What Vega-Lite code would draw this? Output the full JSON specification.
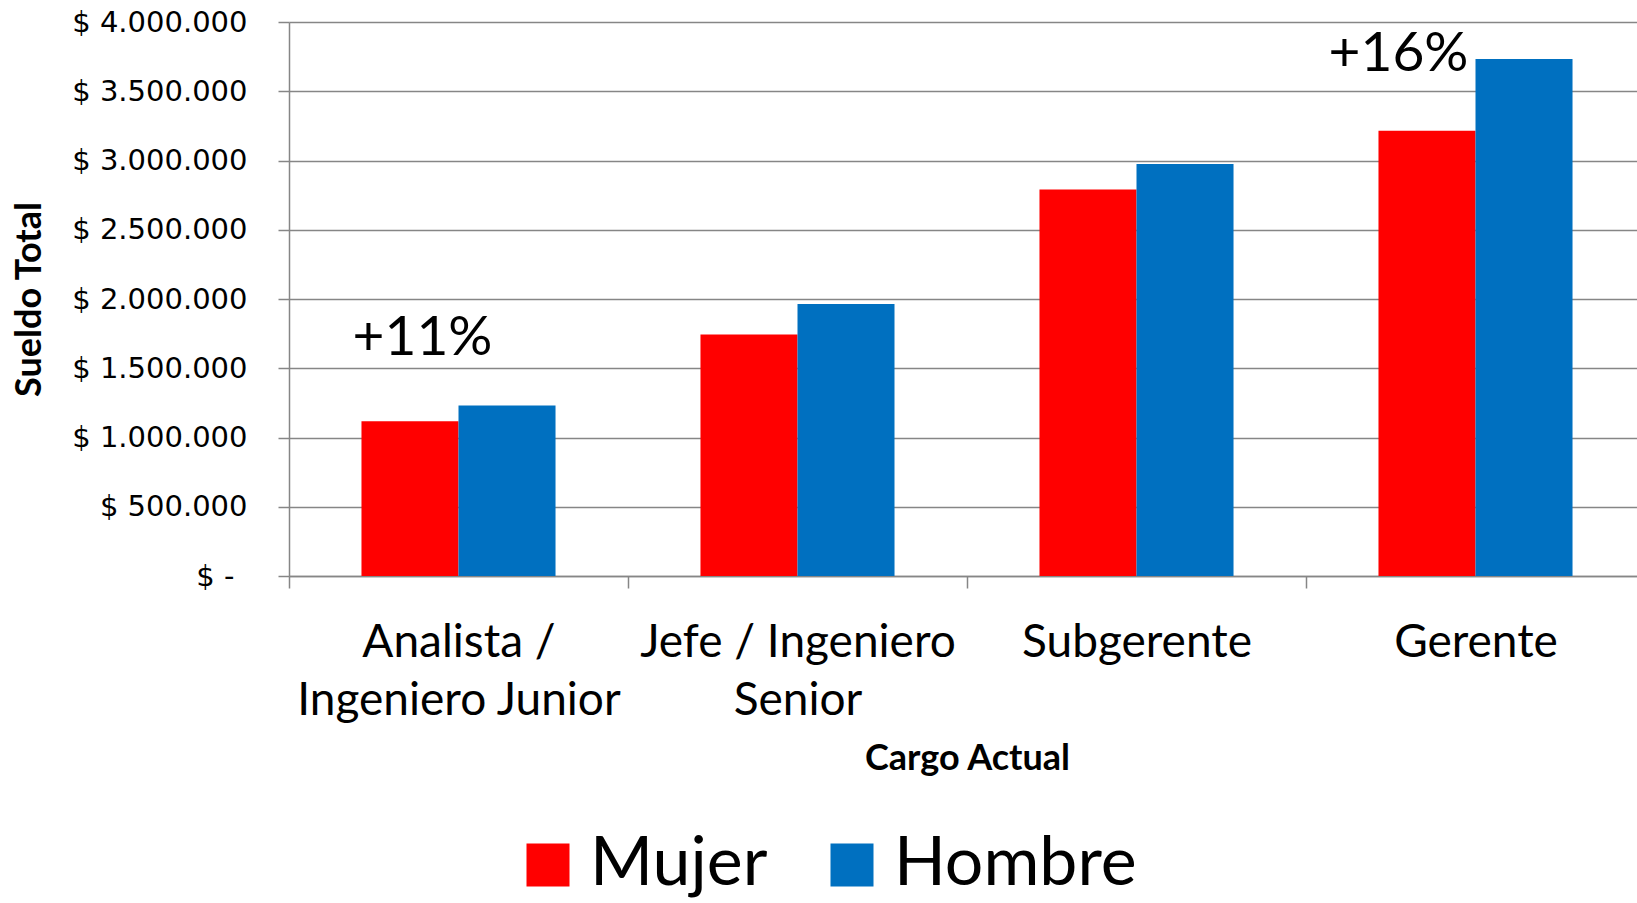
{
  "$schema": "https://vega.github.io/schema/vega-lite/v6.json",
  "width": 1356,
  "height": 554,
  "autosize": "none",
  "padding": {"left": 289, "top": 22, "right": -8, "bottom": 327},
  "background": "white",
  "config": {"view": {"stroke": null}, "font": "Lato"},
  "datasets": {
    "salaries": [
      {"cargo": "Analista / Ingeniero Junior", "genero": "Mujer", "sueldo": 1118000},
      {"cargo": "Analista / Ingeniero Junior", "genero": "Hombre", "sueldo": 1231000},
      {"cargo": "Jefe / Ingeniero Senior", "genero": "Mujer", "sueldo": 1743000},
      {"cargo": "Jefe / Ingeniero Senior", "genero": "Hombre", "sueldo": 1963000},
      {"cargo": "Subgerente", "genero": "Mujer", "sueldo": 2790000},
      {"cargo": "Subgerente", "genero": "Hombre", "sueldo": 2975000},
      {"cargo": "Gerente", "genero": "Mujer", "sueldo": 3215000},
      {"cargo": "Gerente", "genero": "Hombre", "sueldo": 3732000}
    ],
    "notes": [
      {"cargo": "Analista / Ingeniero Junior", "texto": "+11%", "sueldo": 1596000},
      {"cargo": "Gerente", "texto": "+16%", "sueldo": 3646000}
    ]
  },
  "layer": [
    {
      "data": {"name": "salaries"},
      "mark": {"type": "bar"},
      "encoding": {
        "x": {
          "field": "cargo",
          "type": "nominal",
          "title": "Cargo Actual",
          "sort": ["Analista / Ingeniero Junior", "Jefe / Ingeniero Senior", "Subgerente", "Gerente"],
          "scale": {"paddingInner": 0, "paddingOuter": 0},
          "axis": {
            "titleFont": "Lato",
            "titleFontWeight": "bold",
            "titleFontSize": 36,
            "titleColor": "black",
            "titleY": 193,
            "titleBaseline": "alphabetic",
            "labelFont": "Lato",
            "labelFontSize": 46,
            "labelColor": "black",
            "labelLineHeight": 58,
            "labelPadding": 32,
            "labelBaseline": "top",
            "labelAngle": 0,
            "labelLimit": 0,
            "labelExpr": "datum.value == 'Analista / Ingeniero Junior' ? ['Analista /', 'Ingeniero Junior'] : datum.value == 'Jefe / Ingeniero Senior' ? ['Jefe / Ingeniero', 'Senior'] : datum.label",
            "tickBand": "extent",
            "tickSize": 12,
            "tickColor": "#868686",
            "tickWidth": 1.5,
            "domainColor": "#868686",
            "domainWidth": 1.5,
            "grid": false
          }
        },
        "xOffset": {"field": "genero", "sort": ["Mujer", "Hombre"], "scale": {"paddingInner": 0, "paddingOuter": 0.747}},
        "y": {
          "field": "sueldo",
          "type": "quantitative",
          "title": "Sueldo Total",
          "scale": {"domain": [0, 4000000], "nice": false},
          "axis": {
            "titleFont": "Lato",
            "titleFontWeight": "bold",
            "titleFontSize": 36,
            "titleColor": "black",
            "titleX": -249,
            "titleBaseline": "alphabetic",
            "titleAngle": -90,
            "values": [0, 500000, 1000000, 1500000, 2000000, 2500000, 3000000, 3500000, 4000000],
            "labelExpr": "datum.value == 0 ? '$ -' : '$ ' + replace(format(datum.value, ',.0f'), regexp(',', 'g'), '.')",
            "labelFont": "DejaVu Sans",
            "labelFontSize": 29,
            "labelColor": "black",
            "labelPadding": {"condition": {"test": "datum.value == 0", "value": 44}, "value": 31},
            "tickSize": 11,
            "tickColor": "#868686",
            "tickWidth": 1.5,
            "domainColor": "#868686",
            "domainWidth": 1.5,
            "grid": true,
            "gridColor": "#868686",
            "gridWidth": 1.5
          }
        },
        "color": {
          "field": "genero",
          "type": "nominal",
          "scale": {"domain": ["Mujer", "Hombre"], "range": ["#FF0000", "#0070C0"]},
          "legend": {
            "title": null,
            "orient": "none",
            "legendX": 225,
            "legendY": 809,
            "direction": "horizontal",
            "padding": 0,
            "symbolType": "square",
            "symbolSize": 1849,
            "symbolStrokeWidth": 0,
            "symbolOpacity": 1,
            "labelFont": "Lato",
            "labelFontSize": 68,
            "labelColor": "black",
            "labelOffset": 8,
            "labelLimit": 0,
            "columnPadding": 50
          }
        }
      }
    },
    {
      "data": {"name": "notes"},
      "transform": [{"filter": "datum.texto == '+11%'"}],
      "mark": {"type": "text", "font": "Lato", "fontSize": 55, "color": "black", "baseline": "alphabetic", "align": "center", "dx": -36},
      "encoding": {
        "x": {"field": "cargo", "type": "nominal", "title": "Cargo Actual", "sort": ["Analista / Ingeniero Junior", "Jefe / Ingeniero Senior", "Subgerente", "Gerente"]},
        "y": {"field": "sueldo", "type": "quantitative", "title": "Sueldo Total"},
        "text": {"field": "texto"}
      }
    },
    {
      "data": {"name": "notes"},
      "transform": [{"filter": "datum.texto == '+16%'"}],
      "mark": {"type": "text", "font": "Lato", "fontSize": 55, "color": "black", "baseline": "alphabetic", "align": "center", "dx": -77},
      "encoding": {
        "x": {"field": "cargo", "type": "nominal", "title": "Cargo Actual", "sort": ["Analista / Ingeniero Junior", "Jefe / Ingeniero Senior", "Subgerente", "Gerente"]},
        "y": {"field": "sueldo", "type": "quantitative", "title": "Sueldo Total"},
        "text": {"field": "texto"}
      }
    }
  ]
}
